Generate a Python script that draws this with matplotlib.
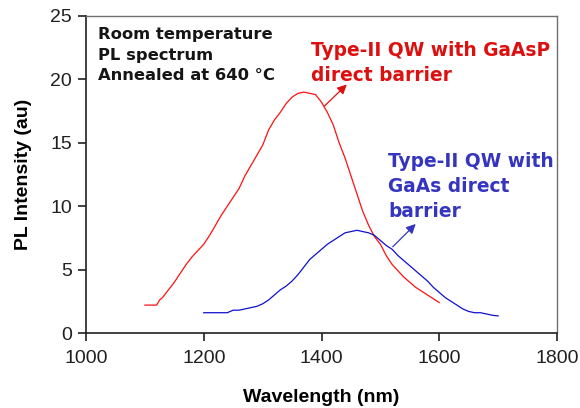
import matplotlib
matplotlib.use("Agg")
import matplotlib.pyplot as plt

# Red: Type-II QW with GaAsP direct barrier
red_wl = [1100, 1110, 1120, 1125, 1130, 1140, 1150, 1160, 1170, 1180, 1190, 1200, 1210, 1220,
          1230, 1240, 1250, 1260, 1270, 1280, 1290, 1300, 1310, 1320, 1330, 1340, 1350,
          1360, 1370, 1380, 1390, 1400, 1410, 1420, 1430, 1440, 1450, 1460, 1470, 1480,
          1490, 1500, 1510, 1520, 1530, 1540, 1550, 1560, 1570, 1580, 1590, 1600]
red_int = [2.2, 2.2, 2.2, 2.6, 2.8, 3.4, 4.0, 4.7, 5.4, 6.0, 6.5, 7.0, 7.7, 8.5,
           9.3, 10.0, 10.7, 11.4, 12.4, 13.2, 14.0, 14.8, 16.0, 16.8, 17.4, 18.1, 18.6,
           18.9, 19.0, 18.9, 18.8, 18.2, 17.4, 16.4, 15.0, 13.8, 12.4, 11.0, 9.6, 8.5,
           7.6, 7.0, 6.1, 5.4, 4.9, 4.4, 4.0, 3.6, 3.3, 3.0, 2.7, 2.4]

# Blue: Type-II QW with GaAs direct barrier
blue_wl = [1200, 1210, 1220, 1230, 1240, 1250, 1260, 1270, 1280, 1290, 1300, 1310, 1320,
           1330, 1340, 1350, 1360, 1370, 1380, 1390, 1400, 1410, 1420, 1430, 1440, 1450,
           1460, 1470, 1480, 1490, 1500, 1510, 1520, 1530, 1540, 1550, 1560, 1570, 1580,
           1590, 1600, 1610, 1620, 1630, 1640, 1650, 1660, 1670, 1680, 1690, 1700]
blue_int = [1.6, 1.6, 1.6, 1.6, 1.6, 1.8, 1.8, 1.9, 2.0, 2.1, 2.3, 2.6, 3.0,
            3.4, 3.7, 4.1, 4.6, 5.2, 5.8, 6.2, 6.6, 7.0, 7.3, 7.6, 7.9, 8.0,
            8.1, 8.0, 7.9, 7.7, 7.3, 6.9, 6.6, 6.1, 5.7, 5.3, 4.9, 4.5, 4.1,
            3.6, 3.2, 2.8, 2.5, 2.2, 1.9, 1.7, 1.6, 1.6, 1.5, 1.4, 1.35]

x_ticks = [1000, 1200, 1400, 1600, 1800]
y_ticks = [0, 5, 10, 15, 20, 25]

fig = plt.figure(figsize=(5.8, 4.08), dpi=100)
ax = fig.add_axes([86/580, 1 - 333/408, (557-86)/580, (333-16)/408])

ax.plot(red_wl, red_int, color="#ff1010", lw=0.9)
ax.plot(blue_wl, blue_int, color="#1010d0", lw=0.9)

ax.set_xlim(1000, 1800)
ax.set_ylim(0, 25)
ax.set_xticks(x_ticks)
ax.set_yticks(y_ticks)
tick_font = dict(family="Liberation Sans", size=14)
ax.set_xticklabels([str(v) for v in x_ticks], **tick_font)
ax.set_yticklabels([str(v) for v in y_ticks], **tick_font)
ax.tick_params(direction="out", length=6, width=1.2, colors="#202020", pad=6)
ax.tick_params(axis="y", pad=4)

for s in ["left", "bottom"]:
    ax.spines[s].set_color("#202020")
    ax.spines[s].set_linewidth(1.2)
for s in ["top", "right"]:
    ax.spines[s].set_color("#707070")
    ax.spines[s].set_linewidth(1.0)

ax.set_xlabel("Wavelength (nm)", family="Liberation Sans", weight="bold", size=14, labelpad=16)
ax.set_ylabel("PL Intensity (au)", family="Liberation Sans", weight="bold", size=14, labelpad=13)

ax.text(1020, 24.1, "Room temperature\nPL spectrum\nAnnealed at 640 \u00b0C",
        family="DejaVu Sans", weight="bold", size=11.8, va="top", ha="left",
        color="#151515", linespacing=1.45)

ax.text(1383, 23.0, "Type-II QW with GaAsP\ndirect barrier",
        family="DejaVu Sans", weight="bold", size=13.4, va="top", ha="left",
        color="#dd1010", linespacing=1.4)
ax.text(1513, 14.3, "Type-II QW with\nGaAs direct\nbarrier",
        family="DejaVu Sans", weight="bold", size=13.4, va="top", ha="left",
        color="#3535c0", linespacing=1.4)

ax.annotate("", xy=(1443, 19.6), xytext=(1405, 17.9),
            arrowprops=dict(arrowstyle="-|>", color="#dd1010", lw=0.9,
                            mutation_scale=14, shrinkA=0, shrinkB=0))
ax.annotate("", xy=(1560, 8.6), xytext=(1521, 6.8),
            arrowprops=dict(arrowstyle="-|>", color="#3535c0", lw=0.9,
                            mutation_scale=14, shrinkA=0, shrinkB=0))

fig.savefig("out.png", dpi=100)
